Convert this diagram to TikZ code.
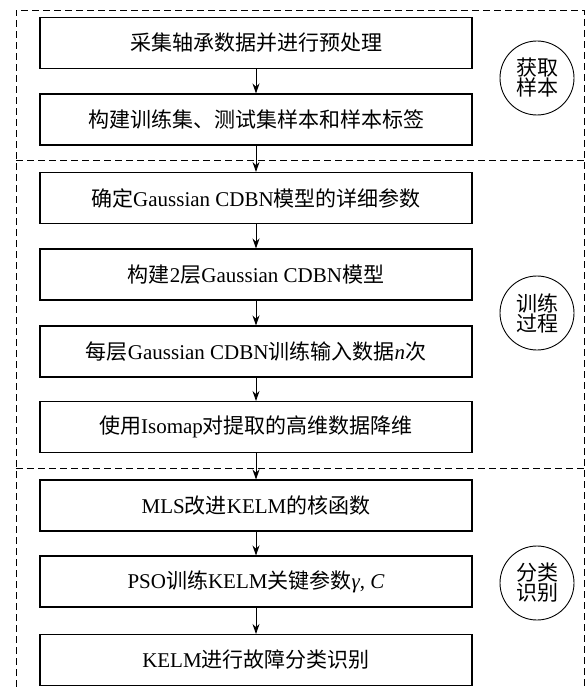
\documentclass[tikz,border=0pt]{standalone}
\usepackage{fontspec}
\setmainfont{Liberation Serif}
\newfontfamily\cjk{Noto Sans CJK SC}
\newcommand{\zh}[1]{{\cjk #1}}
\usetikzlibrary{arrows.meta}
\begin{document}
\begin{tikzpicture}[x=1pt,y=-1pt,
  stepbox/.style={draw,line width=1.1pt,minimum width=432pt,minimum height=51pt,inner sep=0pt,font=\fontsize{21}{24}\selectfont},
  tag/.style={draw,circle,line width=0.9pt,minimum size=74pt,inner sep=0pt,align=center,font=\cjk\fontsize{21}{20}\selectfont},
  frame/.style={line width=0.9pt,dash pattern=on 7pt off 4pt},
  flow/.style={line width=0.9pt,-{Stealth[length=10pt,width=7pt]}}]
\useasboundingbox (0,0) rectangle (585,687);
% dashed frame
\coordinate (tl) at (16,10);
\coordinate (tr) at (584,10);
\coordinate (bl) at (16,687);
\coordinate (br) at (584,687);
\coordinate (d1l) at (16,160);
\coordinate (d1r) at (584,160);
\coordinate (d2l) at (16,468);
\coordinate (d2r) at (584,468);
\draw[frame] (bl) -- (tl) -- (tr) -- (br);
\draw[frame] (d1l) -- (d1r);
\draw[frame] (d2l) -- (d2r);
% boxes
\node[stepbox] (b1) at (256,43) {\zh{采集轴承数据并进行预处理}};
\node[stepbox] (b2) at (256,119.5) {\zh{构建训练集、测试集样本和样本标签}};
\node[stepbox] (b3) at (256,198) {\zh{确定}Gaussian CDBN\zh{模型的详细参数}};
\node[stepbox] (b4) at (256,274.5) {\zh{构建}2\zh{层}Gaussian CDBN\zh{模型}};
\node[stepbox] (b5) at (256,351.5) {\zh{每层}Gaussian CDBN\zh{训练输入数据}\textit{n}\zh{次}};
\node[stepbox] (b6) at (256,427) {\zh{使用}Isomap\zh{对提取的高维数据降维}};
\node[stepbox] (b7) at (256,505.5) {MLS\zh{改进}KELM\zh{的核函数}};
\node[stepbox] (b8) at (256,581.5) {PSO\zh{训练}KELM\zh{关键参数}\textit{γ}, \textit{C}};
\node[stepbox] (b9) at (256,660) {KELM\zh{进行故障分类识别}};
% circles
\node[tag] (c1) at (537,78) {获取\\样本};
\node[tag] (c2) at (537,313) {训练\\过程};
\node[tag] (c3) at (537,583) {分类\\识别};
% arrows
\foreach \a/\b in {b1/b2,b2/b3,b3/b4,b4/b5,b5/b6,b6/b7,b7/b8,b8/b9}
  \draw[flow] (\a) -- (\b);
\end{tikzpicture}
\end{document}
